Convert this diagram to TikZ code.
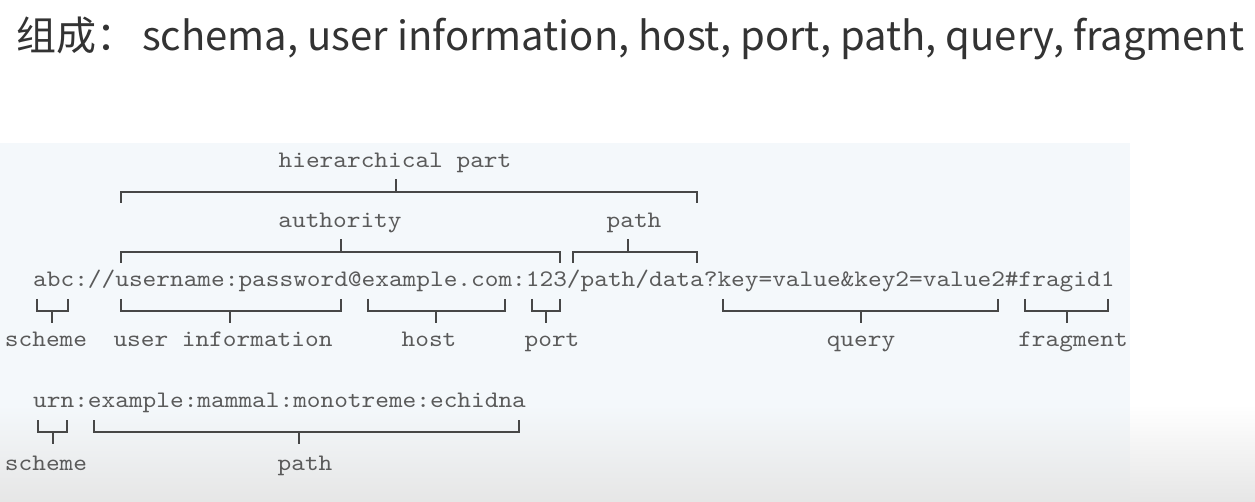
\documentclass[tikz,border=0pt]{standalone}
\usepackage{fontspec}
\setmonofont{lmmono10-regular.otf}[FakeStretch=1.1]
\newfontfamily\cjkfont{Noto Sans CJK SC}
\definecolor{panel}{HTML}{F4F8FB}
\definecolor{bottomgray}{HTML}{E6E6E6}
\definecolor{txtgray}{HTML}{5A5A5A}
\definecolor{linegray}{HTML}{474747}
\definecolor{titlecol}{HTML}{333333}
\newcommand\upbrk[4]{% x1, x2, xc, yline : bracket opening downward, label stem up
  \draw[brk] (#1,#4+11) -- (#1,#4) -- (#2,#4) -- (#2,#4+11);
  \draw[brk] (#3,#4) -- (#3,#4-13);}
\newcommand\lowbrk[4]{% x1, x2, xc, yline : bracket opening upward, label stem down
  \draw[brk] (#1,#4-12) -- (#1,#4) -- (#2,#4) -- (#2,#4-12);
  \draw[brk] (#3,#4) -- (#3,#4+12);}
\begin{document}
\begin{tikzpicture}[x=1pt,y=-1pt,
  mono/.style={font=\ttfamily\fontsize{23.7}{26}\selectfont, text=txtgray, inner sep=0pt, anchor=base},
  brk/.style={draw=linegray, line width=1.8pt},
  title/.style={font=\cjkfont\fontsize{40}{44}\selectfont, text=titlecol, inner sep=0pt, anchor=base west}]
\useasboundingbox (0,0) rectangle (1255,502);
% background
\fill[white] (0,0) rectangle (1255,502);
\fill[panel] (0,143) rectangle (1130,502);
\shade[top color=panel, bottom color=bottomgray] (0,405) rectangle (1130,502);
\shade[top color=white, bottom color=bottomgray] (1130,405) rectangle (1255,502);
% title
\node[title] (ttl) at (16,51) {组成：\hspace{6pt}schema, user information, host, port, path, query, fragment};
% main URI
\node[mono, anchor=base west] (uri) at (33,287) {abc://username:password@example.com:123/path/data?key=value\&key2=value2\#fragid1};
% upper labels
\node[mono] (hier) at (395,168) {hierarchical part};
\node[mono] (auth) at (340,228) {authority};
\node[mono] (path1) at (634,228) {path};
\upbrk{121}{697}{396}{192}
\upbrk{121}{560}{341}{252}
\upbrk{573}{697}{628}{252}
% lower brackets
\lowbrk{37}{68}{52}{311}
\lowbrk{121}{341}{230}{311}
\lowbrk{368}{505}{436}{311}
\lowbrk{532}{560}{546}{311}
\lowbrk{723}{998}{861}{311}
\lowbrk{1025}{1108}{1067}{311}
\node[mono] (sch1) at (46,346) {scheme};
\node[mono] (ui) at (223,346) {user information};
\node[mono] (host) at (429,346) {host};
\node[mono] (port) at (552,346) {port};
\node[mono] (query) at (861,346) {query};
\node[mono] (frag) at (1073,346) {fragment};
% urn
\node[mono, anchor=base west] (urn) at (33,407) {urn:example:mammal:monotreme:echidna};
\lowbrk{38}{67}{53}{432}
\lowbrk{94}{519}{299}{432}
\node[mono] (sch2) at (46,470) {scheme};
\node[mono] (path2) at (305,470) {path};
\end{tikzpicture}
\end{document}
